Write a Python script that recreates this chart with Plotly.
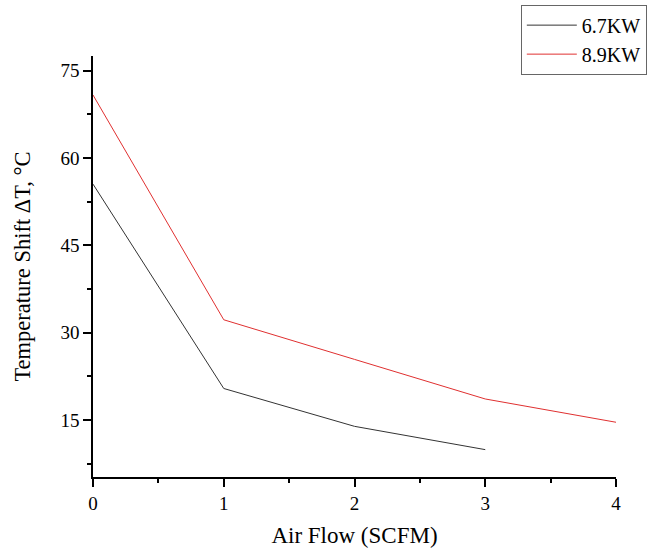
import plotly.graph_objects as go

# ------------------------- DATA -------------------------
air_flow_67 = [0, 1, 2, 3]
shift_67 = [55.5, 20.4, 13.9, 9.9]

air_flow_89 = [0, 1, 2, 3, 4]
shift_89 = [70.8, 32.2, 25.4, 18.6, 14.6]

x_ticks = [0, 1, 2, 3, 4]
y_ticks = [15, 30, 45, 60, 75]

# ------------------------- FIGURE -------------------------
fig = go.Figure()
fig.add_trace(go.Scatter(x=air_flow_67, y=shift_67, mode="lines", name="6.7KW",
                         line=dict(color="#333333", width=1)))
fig.add_trace(go.Scatter(x=air_flow_89, y=shift_89, mode="lines", name="8.9KW",
                         line=dict(color="#e03030", width=1)))

font_family = "Liberation Serif"

fig.update_layout(
    width=650, height=548,
    margin=dict(l=93, r=34, t=56, b=71, autoexpand=False),
    paper_bgcolor="white", plot_bgcolor="white",
    font=dict(family=font_family, size=19, color="black"),
    showlegend=True,
    legend=dict(
        x=0.818, y=1.122, xanchor="left", yanchor="top",
        bordercolor="#666666", borderwidth=1,
        font=dict(family=font_family, size=20, color="black"),
        itemwidth=50, tracegroupgap=0,
    ),
)

fig.update_xaxes(
    range=[0, 4], tickvals=x_ticks, showgrid=False, zeroline=False,
    showline=True, linecolor="black", linewidth=1.5,
    ticks="outside", ticklen=8, tickwidth=1.5, tickcolor="black",
    minor=dict(ticks="outside", ticklen=4, tickwidth=1.5, tickcolor="black", dtick=0.5),
    title=dict(text="Air Flow (SCFM)", font=dict(size=23), standoff=15),
    tickfont=dict(size=19),
)
fig.update_yaxes(
    range=[5.2, 77.5], tickvals=y_ticks, showgrid=False, zeroline=False,
    showline=True, linecolor="black", linewidth=1.5,
    ticks="outside", ticklen=8, tickwidth=1.5, tickcolor="black",
    minor=dict(ticks="outside", ticklen=4, tickwidth=1.5, tickcolor="black",
               tick0=7.5, dtick=7.5),
    title=dict(text="Temperature Shift ΔT, °C", font=dict(size=22.5), standoff=24),
    tickfont=dict(size=19),
)

# remove the default page margin so the figure sits at the window corner
fig.write_html("out.html", config={"displayModeBar": False},
               post_script="document.body.style.margin='0';")
